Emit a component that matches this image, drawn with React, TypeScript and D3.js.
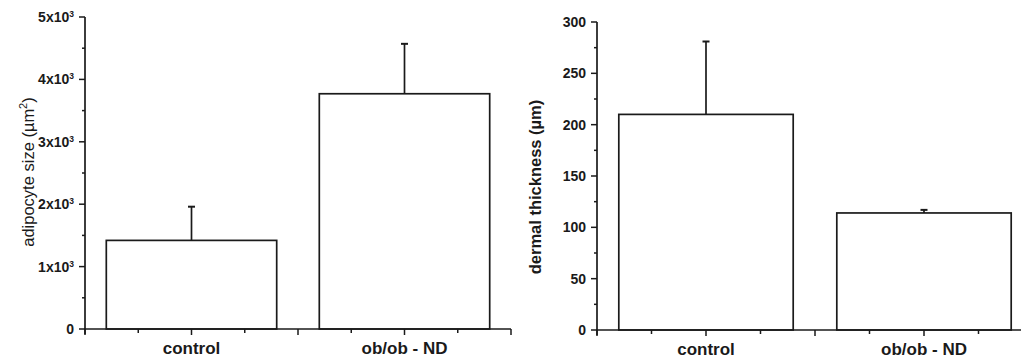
import React, { useRef, useEffect } from 'react';
import * as d3 from 'd3';

const categories = ['control', 'ob/ob - ND'];
const adipocyteMean = [1420, 3770];
const adipocyteErr = [540, 800];
const dermalMean = [210, 114];
const dermalErr = [71, 3];

const adipocyteTicks = [0, 1000, 2000, 3000, 4000, 5000];
const adipocyteTickLabels = ['0', '1x10|3', '2x10|3', '3x10|3', '4x10|3', '5x10|3'];
const dermalTicks = [0, 50, 100, 150, 200, 250, 300];
const dermalTickLabels = ['0', '50', '100', '150', '200', '250', '300'];

const FONT = "'Liberation Sans', Arial, sans-serif";
const INK = '#1a1a1a';

function drawPanel(svg, opts) {
    const { left, right, top, bottom, yMax, minorStep, ticks, tickLabels, means, errs, yLabel, labelX, labelY, labelWeight } = opts;
    const g = svg.append('g');

    const x = d3.scaleLinear().domain([0.5, 2.5]).range([left, right]);
    const y = d3.scaleLinear().domain([0, yMax]).range([bottom, top]);
    const bw = x(1.4) - x(0.6);

    // bars
    g.selectAll('.bar')
        .data(means)
        .enter().append('rect')
        .attr('x', (d, i) => x(i + 1) - bw / 2)
        .attr('y', d => y(d))
        .attr('width', bw)
        .attr('height', d => y(0) - y(d))
        .attr('fill', '#fff')
        .attr('stroke', INK)
        .attr('stroke-width', 1.7);

    // error bars (upper only)
    means.forEach((m, i) => {
        const cx = x(i + 1);
        g.append('line')
            .attr('x1', cx).attr('x2', cx)
            .attr('y1', y(m)).attr('y2', y(m + errs[i]))
            .attr('stroke', INK).attr('stroke-width', 1.7);
        g.append('line')
            .attr('x1', cx - 3.5).attr('x2', cx + 3.5)
            .attr('y1', y(m + errs[i])).attr('y2', y(m + errs[i]))
            .attr('stroke', INK).attr('stroke-width', 2);
    });

    // y axis
    g.append('line')
        .attr('x1', left).attr('x2', left)
        .attr('y1', top).attr('y2', bottom + 5)
        .attr('stroke', INK).attr('stroke-width', 1.7);
    d3.range(0, yMax + 1e-9, minorStep).forEach(v => {
        const major = ticks.includes(v);
        g.append('line')
            .attr('x1', left - (major ? 6 : 3)).attr('x2', left)
            .attr('y1', y(v)).attr('y2', y(v))
            .attr('stroke', INK).attr('stroke-width', 1.5);
    });
    ticks.forEach((v, i) => {
        const parts = tickLabels[i].split('|');
        const t = g.append('text')
            .attr('x', left - 11)
            .attr('y', y(v) + 5)
            .attr('text-anchor', 'end')
            .attr('font-family', FONT)
            .attr('font-weight', 'bold')
            .attr('font-size', 14)
            .attr('fill', INK);
        t.append('tspan').text(parts[0]);
        if (parts[1]) {
            t.append('tspan')
                .attr('dy', -5)
                .attr('font-size', 8.5)
                .text(parts[1]);
        }
    });

    // x axis
    g.append('line')
        .attr('x1', left - 1).attr('x2', right)
        .attr('y1', bottom).attr('y2', bottom)
        .attr('stroke', INK).attr('stroke-width', 1.7);
    d3.range(0.5, 2.5001, 0.25).forEach(v => {
        const major = Math.abs(v * 2 - Math.round(v * 2)) < 1e-9;
        g.append('line')
            .attr('x1', x(v)).attr('x2', x(v))
            .attr('y1', bottom).attr('y2', bottom + (major ? 6 : 4))
            .attr('stroke', INK).attr('stroke-width', 1.5);
    });
    categories.forEach((c, i) => {
        g.append('text')
            .attr('x', x(i + 1))
            .attr('y', bottom + 25)
            .attr('text-anchor', 'middle')
            .attr('font-family', FONT)
            .attr('font-weight', 'bold')
            .attr('font-size', 17)
            .attr('fill', INK)
            .text(c);
    });

    // y label
    const lab = g.append('text')
        .attr('transform', `translate(${labelX},${labelY}) rotate(-90)`)
        .attr('text-anchor', 'middle')
        .attr('font-family', FONT)
        .attr('font-weight', labelWeight)
        .attr('font-size', 16.5)
        .attr('fill', INK);
    lab.append('tspan').text(yLabel[0]);
    if (yLabel[1]) {
        lab.append('tspan').attr('dy', -7).attr('font-size', 11).text(yLabel[1]);
        lab.append('tspan').attr('dy', 7).text(yLabel[2]);
    }
}

function App() {
    const ref = useRef(null);

    useEffect(() => {
        const svg = d3.select(ref.current);
        svg.selectAll('*').remove();

        drawPanel(svg, {
            left: 85, right: 511, top: 17, bottom: 329,
            yMax: 5000, minorStep: 500,
            ticks: adipocyteTicks, tickLabels: adipocyteTickLabels,
            means: adipocyteMean, errs: adipocyteErr,
            yLabel: ['adipocyte size (µm', '2', ')'],
            labelX: 34, labelY: 172, labelWeight: 'normal'
        });

        drawPanel(svg, {
            left: 597, right: 1033, top: 22, bottom: 330,
            yMax: 300, minorStep: 25,
            ticks: dermalTicks, tickLabels: dermalTickLabels,
            means: dermalMean, errs: dermalErr,
            yLabel: ['dermal thickness (µm)'],
            labelX: 541, labelY: 187, labelWeight: 'bold'
        });
    }, []);

    return (
        <svg ref={ref} width={1021} height={358}
            style={{ position: 'absolute', left: 0, top: 0, background: '#fff' }} />
    );
}

export default App;
